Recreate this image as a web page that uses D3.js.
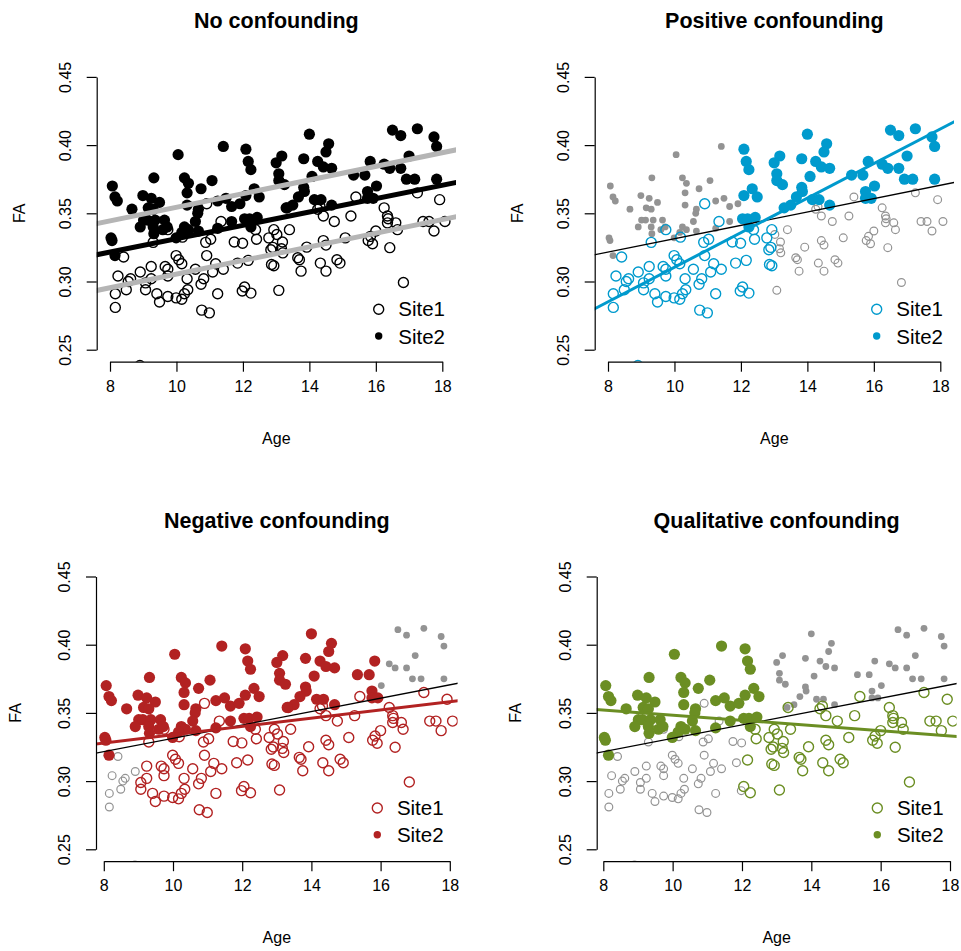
<!DOCTYPE html>
<html>
<head>
<meta charset="utf-8">
<script src="https://cdn.jsdelivr.net/npm/d3@7"></script>
<style>
  html, body { margin: 0; padding: 0; background: #ffffff; }
  svg { display: block; font-family: "Liberation Sans", Arial, Helvetica, sans-serif; }
</style>
</head>
<body>
<svg id="chart" width="961" height="951"></svg>
<script>
// ---------------- data ----------------
const site1Age = [8.41,8.24,8.16,8.16,8.62,8.55,8.49,8.91,8.90,9.24,9.24,9.07,9.07,9.41,9.49,9.66,9.74,9.74,9.74,9.99,
  10.16,10.24,10.34,9.99,10.07,10.16,10.32,10.57,10.82,10.74,11.09,11.18,11.41,10.91,11.24,10.76,10.99,11.84,11.98,
  10.91,11.34,9.74,10.18,11.03,10.88,11.74,11.99,9.30,
  12.05,12.24,12.16,12.38,12.41,12.78,12.93,12.90,12.84,12.86,12.93,13.08,13.75,13.65,13.70,13.92,14.33,14.50,14.83,14.92,
  14.42,14.50,15.08,15.77,15.90,15.84,16.42,16.83,13.19,13.16,13.20,13.02,13.33,15.40,17.25,17.92,14.25,14.32,14.42,14.75,
  15.25,16.25,16.35,16.37,16.35,16.60,16.65,17.42,17.60,17.75,18.08,16.00,13.40];
const site1FA = [0.318,0.304,0.291,0.281,0.302,0.300,0.294,0.307,0.2384,0.311,0.302,0.299,0.294,0.291,0.285,0.311,0.309,0.304,0.289,0.288,
  0.287,0.291,0.294,0.319,0.316,0.313,0.302,0.309,0.302,0.298,0.307,0.313,0.309,0.319,0.291,0.279,0.277,0.3135,0.293,
  0.357,0.344,0.338,0.3325,0.331,0.3287,0.329,0.328,0.3287,
  0.296,0.2915,0.3155,0.338,0.331,0.332,0.338,0.325,0.3233,0.3125,0.3115,0.2935,0.3076,0.3174,0.316,0.3252,0.3135,0.3076,0.316,0.3135,
  0.330,0.3267,0.332,0.330,0.3277,0.3331,0.3248,0.2993,0.329,0.324,0.321,0.3345,0.354,0.362,0.365,0.360,0.353,0.355,0.348,0.344,
  0.348,0.354,0.348,0.346,0.343,0.343,0.338,0.344,0.344,0.337,0.344,0.337,0.338];

const site2Age = [8.07,8.15,8.22,8.03,8.06,8.15,8.66,8.99,9.24,9.49,9.32,9.15,9.30,9.01,8.91,9.13,9.36,9.30,9.64,9.59,
  9.72,9.32,10.05,10.24,10.36,10.32,10.32,10.74,11.07,10.66,10.64,10.57,10.24,10.36,10.16,9.99,10.66,11.24,11.49,11.66,
  11.91,12.09,12.34,12.49,11.41,12.09,12.16,12.24,11.66,12.05,12.20,12.43,12.24,11.24,
  14.00,14.58,14.50,13.17,13.00,13.83,14.25,14.42,14.67,13.08,13.08,13.25,14.08,13.83,13.85,13.67,13.50,13.30,14.15,14.35,
  14.67,15.33,15.67,15.83,16.25,16.42,16.75,17.00,16.50,16.75,17.25,17.75,17.83,17.83,17.17,16.92,16.02,15.75,15.75,15.92];
const site2FA = [0.370,0.362,0.359,0.332,0.330,0.319,0.353,0.363,0.361,0.358,0.376,0.354,0.353,0.345,0.340,0.345,0.345,0.340,0.345,0.338,
  0.340,0.335,0.393,0.376,0.372,0.365,0.356,0.368,0.374,0.353,0.350,0.344,0.340,0.338,0.336,0.332,0.337,0.359,0.361,0.355,
  0.357,0.363,0.368,0.362,0.399,0.397,0.388,0.382,0.344,0.346,0.346,0.347,0.340,0.339,
  0.408,0.401,0.395,0.392,0.387,0.390,0.388,0.384,0.383,0.379,0.374,0.371,0.377,0.369,0.366,0.362,0.356,0.354,0.360,0.360,
  0.356,0.378,0.378,0.388,0.386,0.383,0.383,0.392,0.411,0.407,0.412,0.406,0.399,0.375,0.375,0.375,0.370,0.366,0.361,0.361];

const panelTitles = ["No confounding", "Positive confounding", "Negative confounding", "Qualitative confounding"];
const legendLabels = ["Site1", "Site2"];
const xTicks = [8, 10, 12, 14, 16, 18];
const yTicks = [0.25, 0.30, 0.35, 0.40, 0.45];
const yTickLabels = ["0.25", "0.30", "0.35", "0.40", "0.45"];
const xLabel = "Age";
const yLabel = "FA";

// fitted lines: FA = intercept + slope * Age
const lineNames = ["overall", "site1", "site2", "positive", "negative", "qualitative"];
const lineIntercepts = [0.28236, 0.2554, 0.3044, 0.18375, 0.30379, 0.36734];
const lineSlopes = [0.0049, 0.0050, 0.0050, 0.01267, 0.00302, -0.0019];

// which age range of each site is highlighted in panels 2-4 ([min, max])
const site1Range = [[-Infinity, Infinity], [-Infinity, 13.0], [9.0, Infinity], [12.0, Infinity]];
const site2Range = [[-Infinity, Infinity], [12.0, Infinity], [-Infinity, 16.0], [-Infinity, 12.5]];
const panelColors = ["#000000", "#009ACD", "#B22222", "#6B8E23"];

// ---------------- layout ----------------
const GREY_PT = "#939393";
const GREY_LINE = "#B5B5B5";
const layout = [
  { x8: 110,   ppy: 33.23, left: 96.7, right: 456,   y25: 349.7, top: 64.9,  bottom: 361.7, faX: 18.5, legX: 378.7, legY: 309.3 },
  { x8: 608,   ppy: 33.23, left: 594.7, right: 954,  y25: 349.7, top: 64.9,  bottom: 361.7, faX: 516.5, legX: 876.7, legY: 309.3 },
  { x8: 103.8, ppy: 34.6,  left: 96,   right: 457.6, y25: 849.3, top: 564.5, bottom: 861.2, faX: 15,  legX: 377.3, legY: 808 },
  { x8: 603.3, ppy: 34.67, left: 596.7, right: 956.6, y25: 849.3, top: 564.5, bottom: 861.2, faX: 515, legX: 877.3, legY: 808 }
];
const PX_PER_FA = 1364;

const svg = d3.select("#chart");
const defs = svg.append("defs");

const site1 = site1Age.map((a, i) => ({ age: a, fa: site1FA[i] }));
const site2 = site2Age.map((a, i) => ({ age: a, fa: site2FA[i] }));
const inR = (v, r) => v >= r[0] && v <= r[1];

layout.forEach((L, p) => {
  const x = d3.scaleLinear().domain([8, 18]).range([L.x8, L.x8 + 10 * L.ppy]);
  const y = d3.scaleLinear().domain([0.25, 0.45]).range([L.y25, L.y25 - 0.2 * PX_PER_FA]);
  const g = svg.append("g");
  const col = panelColors[p];

  defs.append("clipPath").attr("id", "clip" + p)
    .append("rect").attr("x", L.left).attr("y", L.top)
    .attr("width", L.right - L.left).attr("height", L.bottom - L.top);
  const plot = g.append("g").attr("clip-path", `url(#clip${p})`);

  if (p === 0) {
    plot.selectAll("circle.s1").data(site1).enter().append("circle")
      .attr("cx", d => x(d.age)).attr("cy", d => y(d.fa)).attr("r", 5.0)
      .attr("fill", "none").attr("stroke", "#000").attr("stroke-width", 1.4);
    plot.selectAll("circle.s2").data(site2).enter().append("circle")
      .attr("cx", d => x(d.age)).attr("cy", d => y(d.fa)).attr("r", 5.6)
      .attr("fill", "#000");
  } else {
    const s1in = site1.filter(d => inR(d.age, site1Range[p]));
    const s1out = site1.filter(d => !inR(d.age, site1Range[p]));
    const s2in = site2.filter(d => inR(d.age, site2Range[p]));
    const s2out = site2.filter(d => !inR(d.age, site2Range[p]));
    plot.append("g").selectAll("circle").data(s1out).enter().append("circle")
      .attr("cx", d => x(d.age)).attr("cy", d => y(d.fa)).attr("r", 3.9)
      .attr("fill", "none").attr("stroke", GREY_PT).attr("stroke-width", 1.2);
    plot.append("g").selectAll("circle").data(s2out).enter().append("circle")
      .attr("cx", d => x(d.age)).attr("cy", d => y(d.fa)).attr("r", 3.4)
      .attr("fill", GREY_PT);
    plot.append("g").selectAll("circle").data(s1in).enter().append("circle")
      .attr("cx", d => x(d.age)).attr("cy", d => y(d.fa)).attr("r", 5.0)
      .attr("fill", "none").attr("stroke", col).attr("stroke-width", 1.4);
    plot.append("g").selectAll("circle").data(s2in).enter().append("circle")
      .attr("cx", d => x(d.age)).attr("cy", d => y(d.fa)).attr("r", 5.6)
      .attr("fill", col);
  }

  // lines
  const x0 = x.invert(L.left - 5), x1 = x.invert(L.right + 5);
  const drawLine = (k, color, w) => {
    plot.append("line")
      .attr("x1", x(x0)).attr("y1", y(lineIntercepts[k] + lineSlopes[k] * x0))
      .attr("x2", x(x1)).attr("y2", y(lineIntercepts[k] + lineSlopes[k] * x1))
      .attr("stroke", color).attr("stroke-width", w);
  };
  if (p === 0) {
    drawLine(1, GREY_LINE, 5);
    drawLine(2, GREY_LINE, 5);
    drawLine(0, "#000", 5);
  } else {
    drawLine(0, "#000", 1.3);
    drawLine(p + 2, col, 3);
  }

  // axes
  const xAxis = d3.axisBottom(x).tickValues(xTicks).tickSize(10).tickSizeOuter(0).tickPadding(8.6);
  const gx = g.append("g").attr("transform", `translate(0,${L.bottom})`).call(xAxis);
  const yAxis = d3.axisLeft(y).tickValues(yTicks).tickFormat((d, i) => yTickLabels[i])
    .tickSize(10).tickSizeOuter(0);
  const gy = g.append("g").attr("transform", `translate(${L.left},0)`).call(yAxis);
  [gx, gy].forEach(a => {
    a.select(".domain").attr("stroke", "#000").attr("stroke-width", 1.2);
    a.selectAll(".tick line").attr("stroke", "#000").attr("stroke-width", 1.2);
    a.selectAll("text").attr("fill", "#000").style("font-size", "16px")
      .style("font-family", "'Liberation Sans', Arial, sans-serif");
  });
  gy.selectAll(".tick text")
    .attr("transform", "rotate(-90)").attr("x", 0).attr("y", -26).attr("dy", 0)
    .style("text-anchor", "middle");

  const cx = (L.left + L.right) / 2;
  g.append("text").attr("x", cx).attr("y", L.top - 37)
    .attr("text-anchor", "middle").style("font-size", "21.5px").style("font-weight", "bold")
    .text(panelTitles[p]);
  g.append("text").attr("x", cx).attr("y", L.bottom + 82)
    .attr("text-anchor", "middle").style("font-size", "16px").text(xLabel);
  g.append("text").attr("transform", `translate(${L.faX + 6},${(y(0.25) + y(0.45)) / 2}) rotate(-90)`)
    .attr("text-anchor", "middle").style("font-size", "16px").text(yLabel);

  // legend
  const lg = g.append("g");
  lg.append("circle").attr("cx", L.legX).attr("cy", L.legY).attr("r", 5.0)
    .attr("fill", "none").attr("stroke", col).attr("stroke-width", 1.4);
  lg.append("circle").attr("cx", L.legX).attr("cy", L.legY + 26.7).attr("r", 3.7).attr("fill", col);
  legendLabels.forEach((t, i) => {
    lg.append("text").attr("x", L.legX + 19.6).attr("y", L.legY + 7 + i * 27.3)
      .style("font-size", "20.5px").text(t);
  });
});
</script>
</body>
</html>
